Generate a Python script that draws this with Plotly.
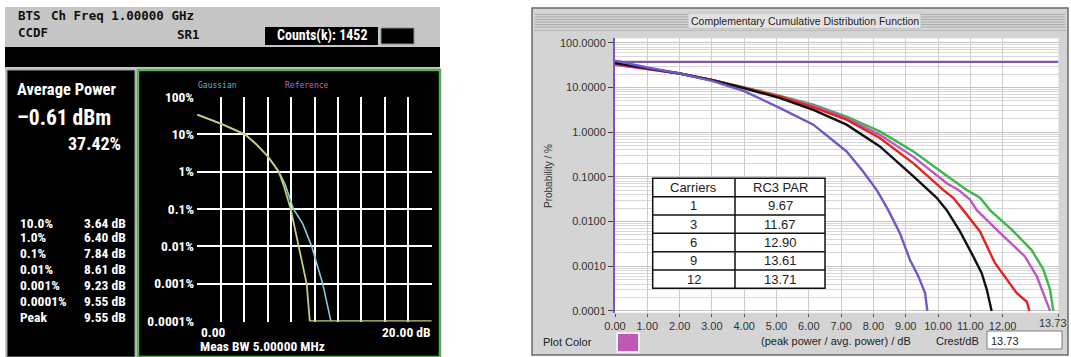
import plotly.graph_objects as go

W, H = 1071, 357

# ---------------- data: left (analyzer screen) ----------------
gauss_db = [0, 1, 2, 3, 4.1, 5, 6, 6.95, 7.5, 8.2, 9.0, 9.76, 10.7, 11.4]
gauss_pct = [33.6, 26, 19.3, 14, 9.8, 5.5, 2.6, 1.0, 0.45, 0.1, 0.04, 0.01, 0.001, 0.0001]
meas_db = [0, 1, 2, 3, 4.1, 5, 6, 6.95, 7.4, 7.97, 8.68, 9.33, 9.6, 20]
meas_pct = [33.6, 26, 19.3, 14, 9.8, 5.5, 2.6, 1.0, 0.4, 0.1, 0.01, 0.001, 0.0001, 0.0001]
left_ytick_vals = [1e-4, 1e-3, 1e-2, 1e-1, 1, 10, 100]
left_ytick_text = ["0.0001%", "0.001%", "0.01%", "0.1%", "1%", "10%", "100%"]
stat_labels = ["10.0%", "1.0%", "0.1%", "0.01%", "0.001%", "0.0001%", "Peak"]
stat_values = ["3.64 dB", "6.40 dB", "7.84 dB", "8.61 dB", "9.23 dB", "9.55 dB", "9.55 dB"]
avg_power_text = "\u20130.61 dBm"
avg_pct_text = "37.42%"
counts_text = "Counts(k): 1452"

# ---------------- data: right (CCDF software) ----------------
c1_db = [0, 0.5, 1, 2, 3, 4, 5.11, 6.14, 7.17, 7.65, 8.1, 8.46, 8.82, 9.13, 9.39, 9.6, 9.67]
c1_pct = [40, 33, 28, 20.5, 14, 8.3, 3.46, 1.47, 0.37, 0.14, 0.051, 0.018, 0.0055, 0.0014, 0.0006, 0.00025, 0.0001]
c3_db = [0, 1, 2, 3, 4, 5.11, 6.14, 7.17, 8.2, 9.24, 9.7, 9.96, 10.27, 10.68, 11.09, 11.35, 11.51, 11.66]
c3_pct = [35, 27, 20.5, 14.5, 9.6, 5.8, 3.16, 1.47, 0.48, 0.102, 0.051, 0.034, 0.018, 0.006, 0.00166, 0.00071, 0.0003, 0.0001]
c6_db = [0, 1, 2, 3, 4, 5.11, 6.14, 7.17, 8.2, 9.24, 10.16, 10.47, 10.78, 11.3, 11.76, 12.13, 12.44, 12.75, 12.83]
c6_pct = [34, 26.5, 20.5, 14.8, 9.8, 6.2, 3.6, 1.9, 0.74, 0.20, 0.051, 0.034, 0.018, 0.006, 0.00118, 0.0005, 0.00025, 0.00016, 0.0001]
c9_db = [0, 1, 2, 3, 4, 5.11, 6.14, 7.17, 8.2, 9.24, 10.27, 10.63, 10.99, 11.2, 11.87, 12.69, 13.06, 13.31, 13.47]
c9_pct = [32, 26, 20.5, 14.8, 9.9, 6.3, 3.9, 2.07, 0.87, 0.28, 0.072, 0.051, 0.031, 0.018, 0.006, 0.00166, 0.00059, 0.00021, 0.0001]
c12_db = [0, 1, 2, 3, 4, 5.11, 6.14, 7.17, 8.2, 9.24, 10.27, 10.89, 11.3, 11.61, 12.28, 12.9, 13.26, 13.47, 13.57]
c12_pct = [33, 26, 20.5, 14.8, 10, 6.5, 4.1, 2.24, 1.04, 0.37, 0.106, 0.051, 0.034, 0.018, 0.0066, 0.0023, 0.00085, 0.0003, 0.0001]
avg_level_pct = 37.0
x_max = 13.73
right_xtick_vals = [0, 1, 2, 3, 4, 5, 6, 7, 8, 9, 10, 11, 12, 13.73]
right_xtick_text = ["0.00", "1.00", "2.00", "3.00", "4.00", "5.00", "6.00", "7.00",
                    "8.00", "9.00", "10.00", "11.00", "12.00", ""]
right_xmax_label = "13.73"
right_ytick_vals = [1e-4, 1e-3, 1e-2, 1e-1, 1, 10, 100]
right_ytick_text = ["0.0001", "0.0010", "0.0100", "0.1000", "1.0000", "10.0000", "100.0000"]
table_carriers = ["1", "3", "6", "9", "12"]
table_par = ["9.67", "11.67", "12.90", "13.61", "13.71"]
crest_text = "13.73"


def X(p):
    return p / W


def Y(p):
    return 1 - p / H


BOLD = "Roboto Condensed, Liberation Sans Narrow, Liberation Sans, Arial, sans-serif"
MONO = "DejaVu Sans Mono, Liberation Mono, monospace"
SANS = "Liberation Sans, Arial, sans-serif"

shapes = []
annotations = []


def rect(x0, y0, x1, y1, fill, line=None, lw=0, layer="below"):
    shapes.append(dict(type="rect", xref="paper", yref="paper",
                       x0=X(x0), x1=X(x1), y0=Y(y1), y1=Y(y0),
                       fillcolor=fill, line=dict(color=line or fill, width=lw), layer=layer))


def hline(x0, x1, y, color, lw=1, layer="below"):
    shapes.append(dict(type="line", xref="paper", yref="paper",
                       x0=X(x0), x1=X(x1), y0=Y(y), y1=Y(y),
                       line=dict(color=color, width=lw), layer=layer))


def vline(x, y0, y1, color, lw=1, layer="below"):
    shapes.append(dict(type="line", xref="paper", yref="paper",
                       x0=X(x), x1=X(x), y0=Y(y0), y1=Y(y1),
                       line=dict(color=color, width=lw), layer=layer))


def txt(x, y, s, size, color, anchor="left", family=BOLD, bold=False, angle=0):
    if bold:
        s = "<b>" + s + "</b>"
    annotations.append(dict(xref="paper", yref="paper", x=X(x), y=Y(y), text=s,
                            showarrow=False, xanchor=anchor, yanchor="middle",
                            textangle=angle, borderpad=0,
                            font=dict(size=size, color=color, family=family)))


# ================= LEFT PANEL =================
rect(5, 7, 440, 357, "#c6c6c6")
rect(5, 47, 440, 67, "#000000")
rect(7, 70, 135, 357, "#000000", "#9a9a9a", 1)
rect(138, 70, 440, 357, "#000000", "#55b055", 2.5)
rect(265, 27, 378, 45, "#000000")
rect(381, 28, 414, 44, "#000000", "#8a8a8a", 1)

txt(17, 16, "BTS", 12.5, "#111", family=MONO, bold=True)
txt(50, 16, "Ch Freq 1.00000 GHz", 12.5, "#111", family=MONO, bold=True)
txt(17, 32, "CCDF", 12.5, "#111", family=MONO, bold=True)
txt(176, 35, "SR1", 12.5, "#111", family=MONO, bold=True)
txt(321.5, 36, counts_text, 14, "#ffffff", anchor="center", bold=True)

txt(16, 89, "Average Power", 16.5, "#ffffff", bold=True)
txt(16, 118, avg_power_text, 21.5, "#ffffff", bold=True)
txt(122, 143, avg_pct_text, 18, "#ffffff", anchor="right", bold=True)
stat_rows_y = [222.7, 237.3, 253.3, 269.3, 285, 300.7, 316.7]
for lab, val, yy in zip(stat_labels, stat_values, stat_rows_y):
    txt(19, yy, lab, 13.5, "#ffffff", bold=True)
    txt(83, yy, val, 13.5, "#ffffff", bold=True)

txt(197, 85, "Gaussian", 8, "#5bb8c8", family=MONO)
txt(284, 85, "Reference", 8, "#c060c8", family=MONO)
txt(200, 331.5, "0.00", 13.5, "#ffffff", bold=True)
txt(432, 331.5, "20.00 dB", 13.5, "#ffffff", anchor="right", bold=True)
txt(199, 346.5, "Meas BW 5.00000 MHz", 13.4, "#ffffff", bold=True)

# ================= RIGHT PANEL =================
rect(532, 8, 1068, 355, "#d4d4d4", "#6a6a6a", 1.5)
hline(534, 1066, 30.5, "#b8b8b8", 1)
for yy in [14.5, 17, 19.5, 22, 24.5, 27]:
    hline(535, 1065, yy, "#a9a9a9", 1)
rect(688, 13, 921, 28.5, "#e2e2e2", "#c0c0c0", 1)
txt(804.5, 21, "Complementary Cumulative Distribution Function", 10.5, "#222", anchor="center", family=SANS)
rect(615, 38.3, 1058.5, 312.7, "#ffffff")

# table
tx0, tx1, tdiv = 652.7, 825, 735
ty = [178.3, 196.7, 215, 233.3, 251.7, 270, 288.3]
rect(tx0, ty[0], tx1, ty[-1], "#ffffff", "#111111", 1.5, layer="above")
for yy in ty[1:-1]:
    hline(tx0, tx1, yy, "#111111", 1.5, layer="above")
vline(tdiv, ty[0], ty[-1], "#111111", 1.5, layer="above")
txt((tx0 + tdiv) / 2, (ty[0] + ty[1]) / 2, "Carriers", 13, "#222", anchor="center", family=SANS)
txt((tdiv + tx1) / 2, (ty[0] + ty[1]) / 2, "RC3 PAR", 13, "#222", anchor="center", family=SANS)
for i, (c, p) in enumerate(zip(table_carriers, table_par)):
    yc = (ty[i + 1] + ty[i + 2]) / 2
    txt((tx0 + tdiv) / 2, yc, c, 13, "#222", anchor="center", family=SANS)
    txt((tdiv + tx1) / 2, yc, p, 13, "#222", anchor="center", family=SANS)

txt(548, 176, "Probability / %", 10, "#333", anchor="center", family=SANS, angle=-90)
txt(542, 342, "Plot Color", 11, "#222", family=SANS)
rect(617, 333, 639, 352, "#c058b8", "#f0f0f0", 2)
txt(836, 341, "(peak power / avg. power) / dB", 11, "#222", anchor="center", family=SANS)
txt(980, 341, "Crest/dB", 11, "#222", anchor="right", family=SANS)
rect(987, 331, 1062, 349, "#ffffff", "#7a7a7a", 1)
txt(990, 340.5, crest_text, 11, "#222", family=SANS)
txt(1068, 323, right_xmax_label, 11, "#333", anchor="right", family=SANS)

# ================= TRACES =================
fig = go.Figure()
fig.add_trace(go.Scatter(x=gauss_db, y=gauss_pct, mode="lines", xaxis="x", yaxis="y",
                         line=dict(color="#86c8d8", width=1.6), showlegend=False))
fig.add_trace(go.Scatter(x=meas_db, y=meas_pct, mode="lines", xaxis="x", yaxis="y",
                         line=dict(color="#c8c878", width=1.8), showlegend=False))

fig.add_trace(go.Scatter(x=[0, x_max], y=[avg_level_pct, avg_level_pct], mode="lines",
                         xaxis="x2", yaxis="y2", line=dict(color="#7c52c6", width=2), showlegend=False))
for xs, ys, col in [(c12_db, c12_pct, "#3cb84a"), (c9_db, c9_pct, "#c155c2"),
                    (c6_db, c6_pct, "#e5231e"), (c3_db, c3_pct, "#111111"),
                    (c1_db, c1_pct, "#6a5cc8")]:
    fig.add_trace(go.Scatter(x=xs, y=ys, mode="lines", xaxis="x2", yaxis="y2",
                             line=dict(color=col, width=2.4), showlegend=False))

minor_vals = [m * 10 ** e for e in range(-4, 2) for m in range(2, 10)]

fig.update_layout(
    template="none",
    width=W, height=H, margin=dict(l=0, r=0, t=0, b=0, pad=0), autosize=False,
    paper_bgcolor="#ffffff", plot_bgcolor="rgba(0,0,0,0)", showlegend=False,
    shapes=shapes, annotations=annotations,
    xaxis=dict(domain=[X(197), X(432)], range=[-0.03, 20.03], anchor="y", automargin=False,
               dtick=2, tick0=0, showticklabels=False, ticks="",
               showgrid=True, gridcolor="#ffffff", gridwidth=2, zeroline=False, showline=False),
    yaxis=dict(domain=[Y(321.5), Y(96.5)], type="log", range=[-4.012, 2.012], anchor="x",
               automargin=False,
               tickmode="array", tickvals=left_ytick_vals, ticktext=left_ytick_text,
               tickfont=dict(size=13.5, color="#ffffff", family=BOLD, weight="bold"), ticks="",
               ticklabelstandoff=2,
               showgrid=True, gridcolor="#ffffff", gridwidth=2, zeroline=False, showline=False),
    xaxis2=dict(domain=[X(615), X(1058.5)], range=[0, x_max], anchor="y2", automargin=False,
                tickmode="array", tickvals=right_xtick_vals, ticktext=right_xtick_text,
                tickfont=dict(size=11, color="#333", family=SANS), ticks="outside",
                ticklen=3, tickcolor="#555",
                showgrid=True, gridcolor="#cdcdcd", gridwidth=1, zeroline=False, showline=False),
    yaxis2=dict(domain=[Y(312.7), Y(38.3)], type="log", range=[-4.04, 2.1], anchor="x2",
                automargin=False,
                tickmode="array", tickvals=right_ytick_vals, ticktext=right_ytick_text,
                tickfont=dict(size=11, color="#333", family=SANS), ticks="outside",
                ticklen=5, tickcolor="#444",
                showgrid=True, gridcolor="#c4c4c4", gridwidth=1, zeroline=False,
                showline=True, linecolor="#7c52c6", linewidth=2,
                minor=dict(tickmode="array", tickvals=minor_vals, showgrid=True,
                           gridcolor="#d8d8d8", gridwidth=1, ticks="")),
)

fig.write_html("out.html", config={"displayModeBar": False, "staticPlot": True},
               post_script="document.body.style.margin='0px';document.body.style.overflow='hidden';")
